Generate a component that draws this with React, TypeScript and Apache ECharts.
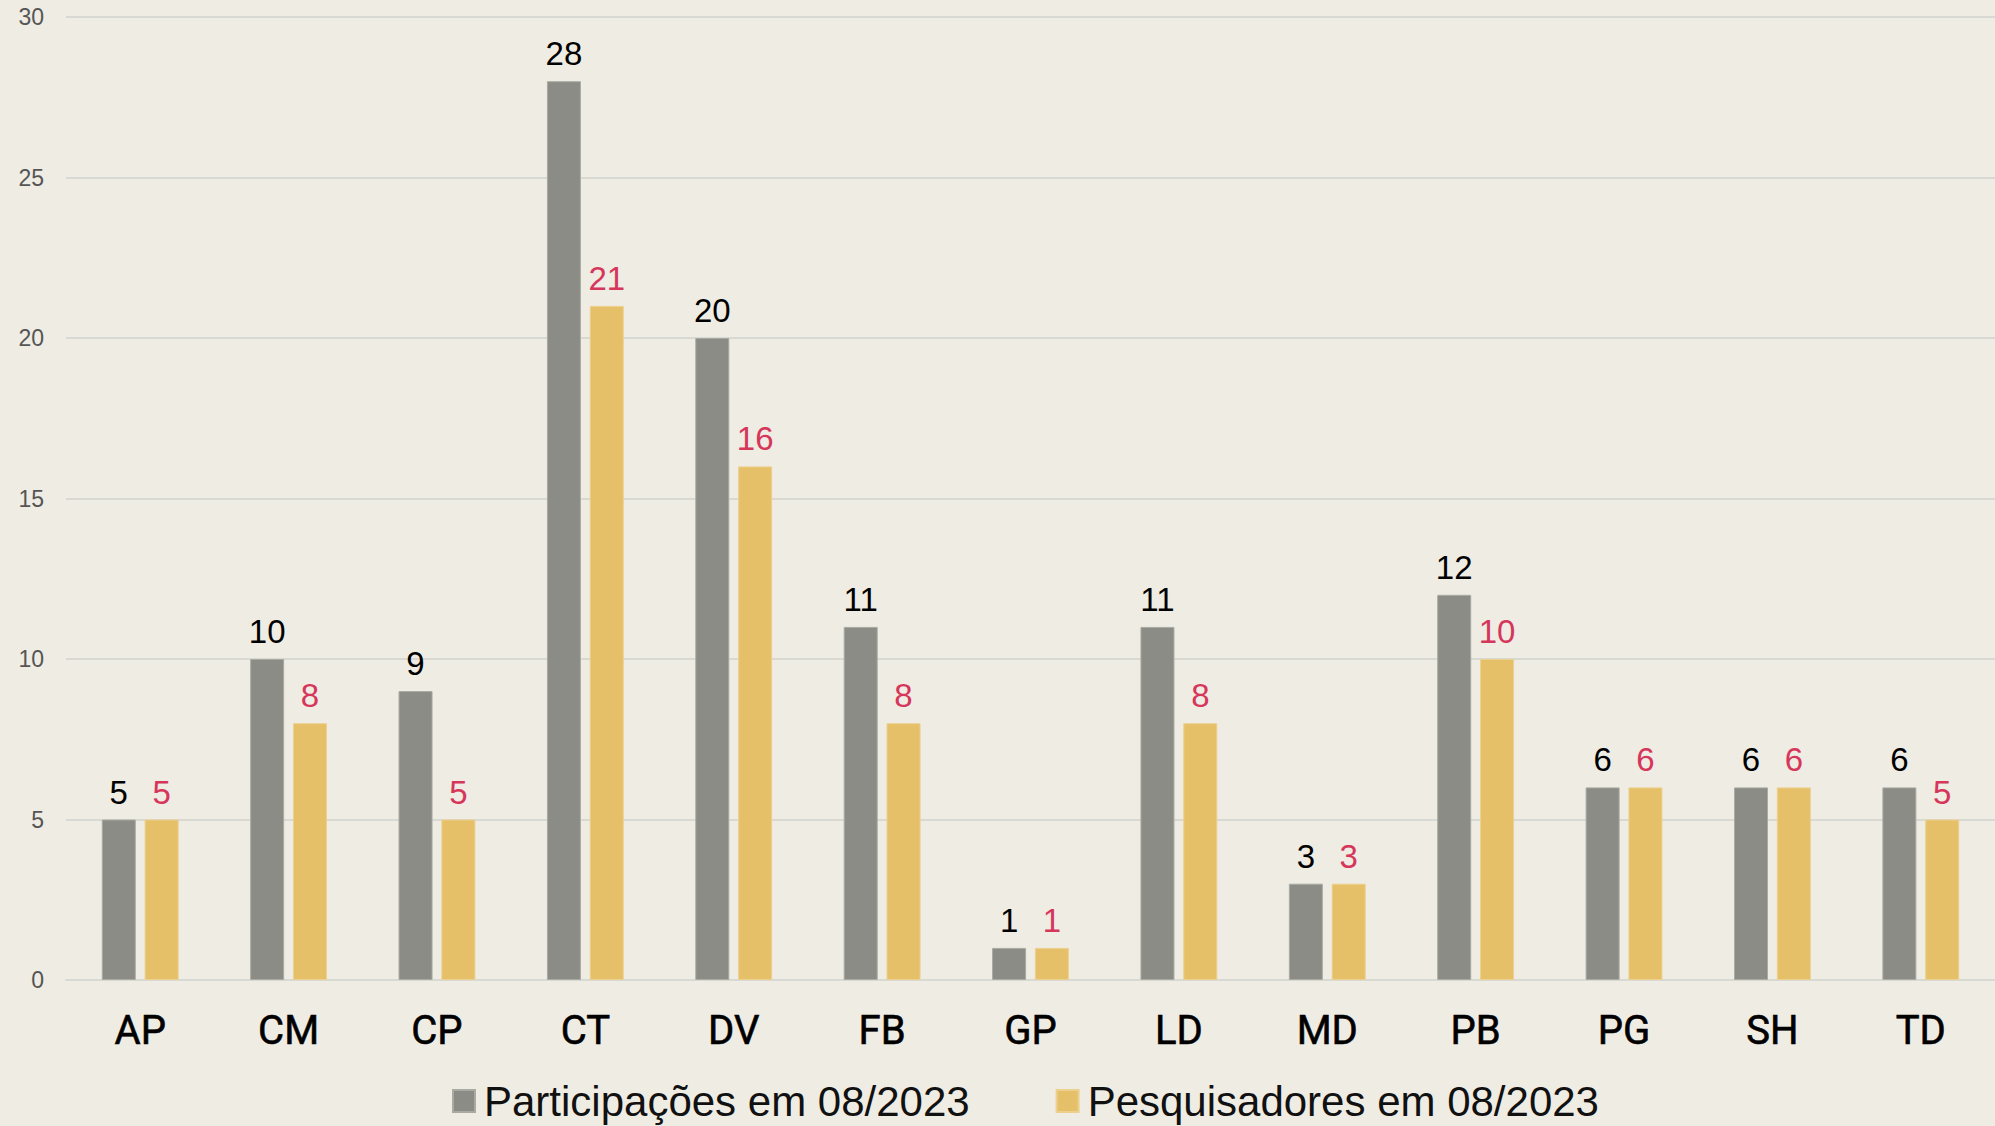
import React, { useEffect, useRef } from "react";
import * as echarts from "echarts";

const categories = ["AP", "CM", "CP", "CT", "DV", "FB", "GP", "LD", "MD", "PB", "PG", "SH", "TD"];
const participacoes = [5, 10, 9, 28, 20, 11, 1, 11, 3, 12, 6, 6, 6];
const pesquisadores = [5, 8, 5, 21, 16, 8, 1, 8, 3, 10, 6, 6, 5];
const seriesNames = ["Participações em 08/2023", "Pesquisadores em 08/2023"];

export default function App() {
  const ref = useRef<HTMLDivElement>(null);
  useEffect(() => {
    document.body.style.margin = "0";
    const chart = echarts.init(ref.current!, null, { renderer: "svg" });
    chart.setOption({
      animation: false,
      backgroundColor: "#efece4",
      grid: { left: 66, right: 0, top: 17, bottom: 146 },
      legend: {
        bottom: -2,
        left: 447,
        itemWidth: 22,
        itemHeight: 22,
        itemGap: 86,
        icon: "rect",
        textStyle: {
          fontFamily: "Liberation Sans",
          fontSize: 42,
          color: "#111",
          lineHeight: 44,
          padding: [0, 0, 0, 4],
        },
        data: seriesNames,
      },
      xAxis: {
        type: "category",
        data: categories,
        axisLine: { lineStyle: { color: "#d9d9d4", width: 2 } },
        axisTick: { show: false },
        axisLabel: {
          color: "#000",
          fontFamily: "Roboto",
          fontWeight: "normal",
          fontSize: 40,
          margin: 30,
          textBorderColor: "#000",
          textBorderWidth: 0.6,
        },
      },
      yAxis: {
        type: "value",
        min: 0,
        max: 30,
        interval: 5,
        axisLine: { show: false },
        axisTick: { show: false },
        splitLine: { lineStyle: { color: "#d9d9d4", width: 2 } },
        axisLabel: {
          color: "#555",
          fontFamily: "Liberation Sans",
          fontSize: 23,
          margin: 22,
        },
      },
      series: [
        {
          name: seriesNames[0],
          type: "bar",
          data: participacoes,
          barWidth: 34,
          barGap: "26%",
          itemStyle: { color: "#8b8c85", borderColor: "#a9aaa2", borderWidth: 1 },
          label: {
            show: true,
            position: "top",
            distance: 11,
            color: "#000",
            fontFamily: "Liberation Sans",
            fontSize: 33,
          },
        },
        {
          name: seriesNames[1],
          type: "bar",
          data: pesquisadores,
          barWidth: 34,
          itemStyle: { color: "#e6c068", borderColor: "#ecd08e", borderWidth: 1 },
          label: {
            show: true,
            position: "top",
            distance: 11,
            color: "#d6365a",
            fontFamily: "Liberation Sans",
            fontSize: 33,
          },
        },
      ],
    });
    return () => chart.dispose();
  }, []);
  return <div ref={ref} style={{ width: 1995, height: 1126 }} />;
}
